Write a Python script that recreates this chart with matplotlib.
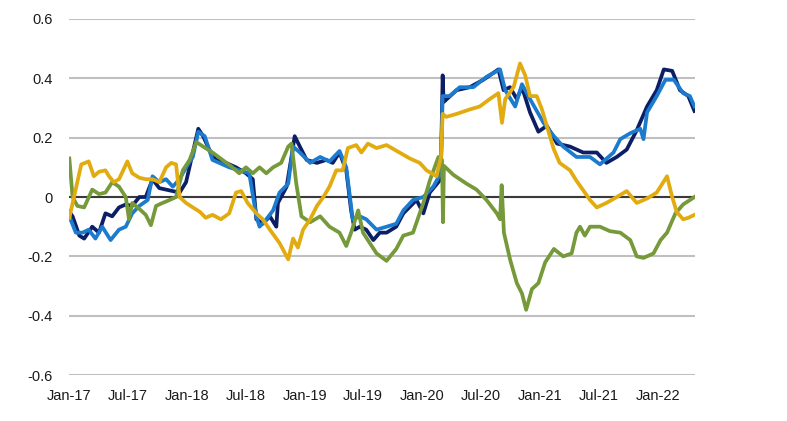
import pandas as pd
import matplotlib
matplotlib.use("Agg")
import matplotlib.pyplot as plt
import matplotlib.dates as mdates

plt.rcParams['font.family'] = ['Liberation Sans', 'DejaVu Sans']

# Data (date, value)
navy_dates = ["2017-01-01", "2017-01-11", "2017-02-01", "2017-02-16", "2017-03-13", "2017-04-03",
              "2017-04-23", "2017-05-14", "2017-06-04", "2017-06-25", "2017-07-15", "2017-08-06",
              "2017-08-26", "2017-09-16", "2017-10-07", "2017-10-28", "2017-11-18", "2017-12-09",
              "2017-12-29", "2018-01-19", "2018-02-05", "2018-02-20", "2018-03-11", "2018-04-01",
              "2018-05-02", "2018-06-02", "2018-07-03", "2018-07-24", "2018-08-04", "2018-08-24",
              "2018-09-15", "2018-10-05", "2018-10-10", "2018-11-06", "2018-11-21", "2018-12-01",
              "2018-12-17", "2019-01-07", "2019-02-08", "2019-03-09", "2019-03-29", "2019-04-19",
              "2019-05-10", "2019-05-25", "2019-06-05", "2019-06-21", "2019-07-11", "2019-08-02",
              "2019-08-22", "2019-09-12", "2019-10-12", "2019-11-03", "2019-12-14", "2020-01-04",
              "2020-01-24", "2020-02-27", "2020-03-04", "2020-03-07", "2020-04-16", "2020-05-27",
              "2020-07-08", "2020-08-24", "2020-09-09", "2020-09-29", "2020-10-20", "2020-11-05",
              "2020-11-30", "2020-12-26", "2021-01-21", "2021-02-22", "2021-04-03", "2021-05-14",
              "2021-06-25", "2021-07-25", "2021-08-26", "2021-09-26", "2021-10-27", "2021-11-28",
              "2021-12-28", "2022-01-19", "2022-02-14", "2022-03-10", "2022-04-05", "2022-04-24"]
navy_vals = [-0.05, -0.065, -0.13, -0.14, -0.10, -0.12,
             -0.055, -0.065, -0.035, -0.025, -0.03, 0.0,
             0.0, 0.06, 0.03, 0.025, 0.02, 0.015,
             0.05, 0.15, 0.23, 0.205, 0.16, 0.125,
             0.115, 0.10, 0.08, 0.06, -0.075, -0.09,
             -0.065, -0.10, -0.02, 0.035, 0.135, 0.205,
             0.17, 0.125, 0.115, 0.125, 0.115, 0.15,
             0.09, -0.045, -0.11, -0.10, -0.11, -0.145,
             -0.12, -0.12, -0.10, -0.055, -0.01, -0.055,
             0.015, 0.06, 0.41, 0.32, 0.36, 0.37,
             0.395, 0.43, 0.36, 0.37, 0.33, 0.37,
             0.285, 0.22, 0.24, 0.18, 0.17, 0.15,
             0.15, 0.115, 0.135, 0.16, 0.225, 0.305,
             0.36, 0.43, 0.425, 0.36, 0.34, 0.29]

blue_dates = ["2017-01-01", "2017-01-21", "2017-02-11", "2017-03-02", "2017-03-23", "2017-04-13",
              "2017-05-09", "2017-06-04", "2017-06-25", "2017-07-15", "2017-08-06", "2017-09-01",
              "2017-09-16", "2017-10-07", "2017-10-28", "2017-11-18", "2017-12-09", "2017-12-29",
              "2018-01-19", "2018-02-05", "2018-02-25", "2018-03-21", "2018-04-11", "2018-05-12",
              "2018-06-12", "2018-07-13", "2018-08-04", "2018-08-14", "2018-09-04", "2018-09-25",
              "2018-10-15", "2018-11-11", "2018-11-26", "2018-12-17", "2019-01-18", "2019-02-18",
              "2019-03-19", "2019-04-19", "2019-05-10", "2019-05-30", "2019-06-21", "2019-07-11",
              "2019-08-12", "2019-09-12", "2019-10-12", "2019-11-03", "2019-12-03", "2020-01-04",
              "2020-02-04", "2020-02-27", "2020-03-04", "2020-03-25", "2020-04-26", "2020-06-07",
              "2020-07-18", "2020-08-29", "2020-09-14", "2020-10-15", "2020-11-05", "2020-11-30",
              "2021-01-11", "2021-02-12", "2021-03-13", "2021-04-23", "2021-06-04", "2021-07-05",
              "2021-08-16", "2021-09-06", "2021-10-07", "2021-11-07", "2021-11-17", "2021-11-28",
              "2021-12-28", "2022-01-24", "2022-02-19", "2022-03-20", "2022-04-10", "2022-04-24"]
blue_vals = [-0.065, -0.12, -0.12, -0.11, -0.14, -0.10,
             -0.145, -0.11, -0.10, -0.055, -0.03, -0.01,
             0.07, 0.05, 0.06, 0.035, 0.06, 0.10,
             0.135, 0.22, 0.205, 0.125, 0.115, 0.10,
             0.09, 0.08, -0.065, -0.10, -0.075, -0.045,
             0.015, 0.045, 0.17, 0.15, 0.115, 0.135,
             0.12, 0.155, 0.10, -0.075, -0.065, -0.075,
             -0.11, -0.10, -0.09, -0.045, -0.01, 0.0,
             0.035, 0.08, 0.34, 0.34, 0.37, 0.37,
             0.405, 0.43, 0.36, 0.305, 0.38, 0.33,
             0.25, 0.205, 0.17, 0.135, 0.135, 0.11,
             0.15, 0.195, 0.215, 0.23, 0.195, 0.285,
             0.34, 0.395, 0.395, 0.35, 0.34, 0.305]

green_dates = ["2017-01-01", "2017-01-11", "2017-01-26", "2017-02-16", "2017-03-13", "2017-04-03",
               "2017-04-23", "2017-05-14", "2017-06-04", "2017-06-25", "2017-07-05", "2017-07-15",
               "2017-08-06", "2017-08-26", "2017-09-11", "2017-09-27", "2017-10-17", "2017-11-08",
               "2017-11-28", "2017-12-19", "2018-01-09", "2018-01-30", "2018-02-20", "2018-03-21",
               "2018-04-21", "2018-05-22", "2018-06-12", "2018-07-03", "2018-07-24", "2018-08-14",
               "2018-09-04", "2018-09-25", "2018-10-20", "2018-11-11", "2018-11-21", "2018-12-06",
               "2018-12-22", "2019-01-18", "2019-02-18", "2019-03-19", "2019-04-19", "2019-05-10",
               "2019-05-25", "2019-06-16", "2019-07-01", "2019-07-22", "2019-08-12", "2019-09-12",
               "2019-10-12", "2019-11-03", "2019-12-03", "2020-01-04", "2020-01-24", "2020-02-20",
               "2020-03-02", "2020-03-05", "2020-03-08", "2020-04-06", "2020-05-17", "2020-06-17",
               "2020-07-18", "2020-08-19", "2020-08-29", "2020-09-03", "2020-09-10", "2020-09-29",
               "2020-10-20", "2020-11-05", "2020-11-18", "2020-12-06", "2020-12-26", "2021-01-16",
               "2021-02-12", "2021-03-13", "2021-04-08", "2021-04-23", "2021-05-04", "2021-05-19",
               "2021-06-04", "2021-07-05", "2021-08-05", "2021-09-06", "2021-10-07", "2021-10-27",
               "2021-11-17", "2021-12-18", "2022-01-09", "2022-01-29", "2022-02-24", "2022-03-20",
               "2022-04-24"]
green_vals = [0.13, 0.0, -0.03, -0.035, 0.025, 0.01,
              0.015, 0.05, 0.035, 0.0, -0.075, -0.02,
              -0.04, -0.06, -0.095, -0.03, -0.02, -0.01,
              0.0, 0.09, 0.125, 0.185, 0.17, 0.15,
              0.125, 0.10, 0.08, 0.10, 0.08, 0.10,
              0.08, 0.10, 0.115, 0.17, 0.18, 0.045,
              -0.065, -0.085, -0.065, -0.10, -0.12, -0.165,
              -0.12, -0.045, -0.12, -0.155, -0.19, -0.215,
              -0.175, -0.13, -0.12, -0.02, 0.055, 0.135,
              0.125, -0.085, 0.105, 0.075, 0.045, 0.025,
              -0.01, -0.055, -0.075, 0.04, -0.12, -0.21,
              -0.29, -0.325, -0.38, -0.31, -0.29, -0.22,
              -0.175, -0.20, -0.19, -0.12, -0.10, -0.13,
              -0.10, -0.10, -0.115, -0.12, -0.145, -0.20,
              -0.205, -0.19, -0.145, -0.12, -0.055, -0.025,
              0.0]

gold_dates = ["2017-01-01", "2017-02-07", "2017-03-02", "2017-03-18", "2017-04-03", "2017-04-23",
              "2017-05-04", "2017-05-19", "2017-06-04", "2017-06-30", "2017-07-15", "2017-08-06",
              "2017-08-26", "2017-09-16", "2017-10-07", "2017-10-28", "2017-11-13", "2017-11-28",
              "2017-12-09", "2017-12-29", "2018-01-19", "2018-02-10", "2018-02-28", "2018-03-21",
              "2018-04-16", "2018-05-12", "2018-06-02", "2018-06-18", "2018-07-08", "2018-08-04",
              "2018-08-24", "2018-09-15", "2018-10-15", "2018-11-11", "2018-11-26", "2018-12-11",
              "2018-12-27", "2019-01-18", "2019-02-08", "2019-02-28", "2019-03-19", "2019-04-09",
              "2019-04-29", "2019-05-15", "2019-06-10", "2019-06-26", "2019-07-16", "2019-08-12",
              "2019-09-12", "2019-10-22", "2019-11-23", "2019-12-24", "2020-01-14", "2020-02-14",
              "2020-02-28", "2020-03-04", "2020-03-15", "2020-04-16", "2020-05-27", "2020-06-27",
              "2020-07-28", "2020-08-24", "2020-09-04", "2020-09-14", "2020-10-10", "2020-10-30",
              "2020-11-15", "2020-11-30", "2020-12-21", "2021-01-06", "2021-01-21", "2021-02-12",
              "2021-03-02", "2021-04-03", "2021-04-23", "2021-05-19", "2021-06-04", "2021-06-25",
              "2021-07-25", "2021-08-26", "2021-09-26", "2021-10-27", "2021-11-28", "2021-12-28",
              "2022-01-29", "2022-02-14", "2022-02-28", "2022-03-20", "2022-04-05", "2022-04-24"]
gold_vals = [-0.07, 0.11, 0.12, 0.07, 0.085, 0.09,
             0.07, 0.05, 0.06, 0.12, 0.08, 0.065,
             0.06, 0.06, 0.05, 0.10, 0.115, 0.11,
             0.0, -0.02, -0.035, -0.05, -0.07, -0.06,
             -0.075, -0.055, 0.015, 0.02, -0.02, -0.055,
             -0.075, -0.11, -0.155, -0.21, -0.14, -0.17,
             -0.11, -0.075, -0.03, 0.0, 0.035, 0.09,
             0.09, 0.165, 0.175, 0.15, 0.18, 0.165,
             0.175, 0.15, 0.13, 0.115, 0.09, 0.07,
             0.135, 0.28, 0.27, 0.28, 0.295, 0.305,
             0.33, 0.35, 0.25, 0.33, 0.37, 0.45,
             0.41, 0.34, 0.34, 0.295, 0.24, 0.16,
             0.115, 0.09, 0.055, 0.015, -0.01, -0.035,
             -0.02, 0.0, 0.02, -0.02, -0.005, 0.015,
             0.07, 0.0, -0.05, -0.075, -0.07, -0.06]

y_ticks = [-0.6, -0.4, -0.2, 0, 0.2, 0.4, 0.6]
y_labels = ["-0.6", "-0.4", "-0.2", "0", "0.2", "0.4", "0.6"]

fig = plt.figure(figsize=(7.87, 4.21), dpi=100)
ax = fig.add_axes([0.0877, 0.109, 0.7955, 0.846])

series = [
    (navy_dates, navy_vals, "#0c1f66"),
    (blue_dates, blue_vals, "#1b7bcf"),
    (green_dates, green_vals, "#76993a"),
    (gold_dates, gold_vals, "#e2ab10"),
]
for d, v, c in series:
    ax.plot(pd.to_datetime(d), v, color=c, lw=2.7, solid_joinstyle="round", zorder=3)

ax.set_ylim(-0.6, 0.6)
ax.set_xlim(pd.Timestamp("2016-12-31"), pd.Timestamp("2022-04-26"))
ax.set_yticks(y_ticks)
ax.set_yticklabels(y_labels)
ax.yaxis.grid(True, color="#c0c0c0", lw=1.5)
ax.set_axisbelow(True)
ax.axhline(0, color="#3a3a3a", lw=1.5, zorder=2)

ax.xaxis.set_major_locator(mdates.MonthLocator(bymonth=[1, 7]))
ax.xaxis.set_major_formatter(mdates.DateFormatter("%b-%y"))
ax.tick_params(axis="both", length=0, labelsize=10.5, colors="#1a1a1a")
ax.tick_params(axis="y", pad=12)
ax.tick_params(axis="x", pad=10)
for s in ax.spines.values():
    s.set_visible(False)

fig.savefig("out.png", dpi=100)
